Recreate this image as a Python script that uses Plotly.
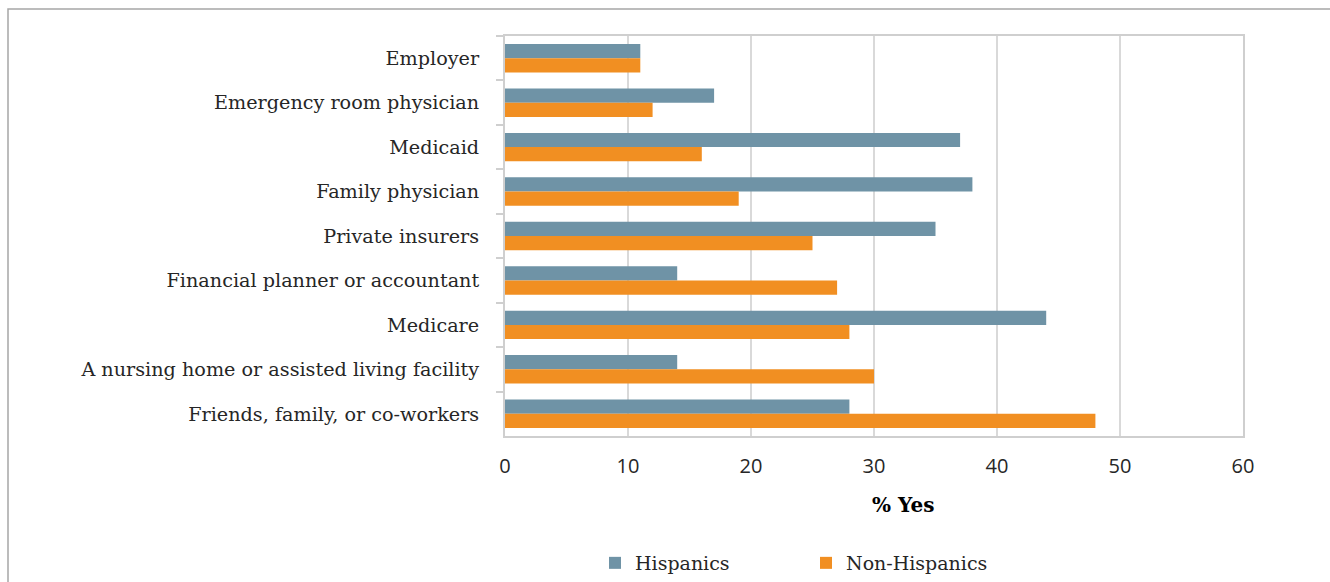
import plotly.graph_objects as go

categories = [
    "Employer",
    "Emergency room physician",
    "Medicaid",
    "Family physician",
    "Private insurers",
    "Financial planner or accountant",
    "Medicare",
    "A nursing home or assisted living facility",
    "Friends, family, or co-workers",
]
hispanics = [11, 17, 37, 38, 35, 14, 44, 14, 28]
non_hispanics = [11, 12, 16, 19, 25, 27, 28, 30, 48]
x_ticks = [0, 10, 20, 30, 40, 50, 60]
x_title = "% Yes"

SERIF = "DejaVu Serif"
SANS = "Open Sans"

fig = go.Figure()
fig.add_trace(go.Bar(y=categories, x=hispanics, name="Hispanics", orientation="h",
                     marker=dict(color="#6F93A6", line=dict(width=0))))
fig.add_trace(go.Bar(y=categories, x=non_hispanics, name="Non-Hispanics", orientation="h",
                     marker=dict(color="#F18F22", line=dict(width=0))))

W, H = 1330, 582
L, R, T, B = 505, 1243, 36, 436

fig.update_layout(
    width=W, height=H,
    margin=dict(l=L, r=W - R, t=T, b=H - B, pad=0, autoexpand=False),
    paper_bgcolor="white", plot_bgcolor="white",
    barmode="group", bargap=0.36, bargroupgap=0,
    font=dict(family=SERIF, size=19, color="#262626"),
    legend=dict(orientation="h", x=(595 - L) / (R - L), y=(H - 563) / H, yref="container",
                xanchor="left", yanchor="middle",
                traceorder="normal", entrywidth=166, itemwidth=30,
                font=dict(family=SERIF, size=19, color="#262626")),
    showlegend=True,
)
fig.update_xaxes(
    range=[0, 60], tickvals=x_ticks, ticktext=[str(v) for v in x_ticks],
    showgrid=True, gridcolor="#D9D9D9", gridwidth=1.5,
    showline=True, linecolor="#CFCFCF", linewidth=2, mirror=True,
    ticks="", zeroline=False, automargin=False,
    tickfont=dict(family=SANS, size=20, color="#262626"),
    ticklabelstandoff=11,
)
fig.update_yaxes(
    autorange="reversed", automargin=False,
    showline=True, linecolor="#CFCFCF", linewidth=2, mirror=True,
    ticks="outside", ticklen=7, tickcolor="#CFCFCF", tickwidth=1.5, tickson="boundaries",
    showgrid=False,
    tickfont=dict(family=SERIF, size=19.2, color="#262626"),
    ticklabelstandoff=20,
)

# axis title (offset to the right like the original)
fig.add_annotation(text="<b>" + x_title + "</b>", xref="paper", yref="paper",
                   x=(903 - L) / (R - L), y=(B - 505) / (B - T),
                   xanchor="center", yanchor="middle", showarrow=False,
                   font=dict(family=SERIF, size=20, color="#000000"))

# outer chart border
fig.add_shape(type="rect", xref="paper", yref="paper",
              x0=(8 - L) / (R - L), x1=(1332 - L) / (R - L),
              y0=(B - 700) / (B - T), y1=(B - 9) / (B - T),
              line=dict(color="#A6A6A6", width=1.5), fillcolor="rgba(0,0,0,0)", layer="below")

fig.write_html("out.html")
